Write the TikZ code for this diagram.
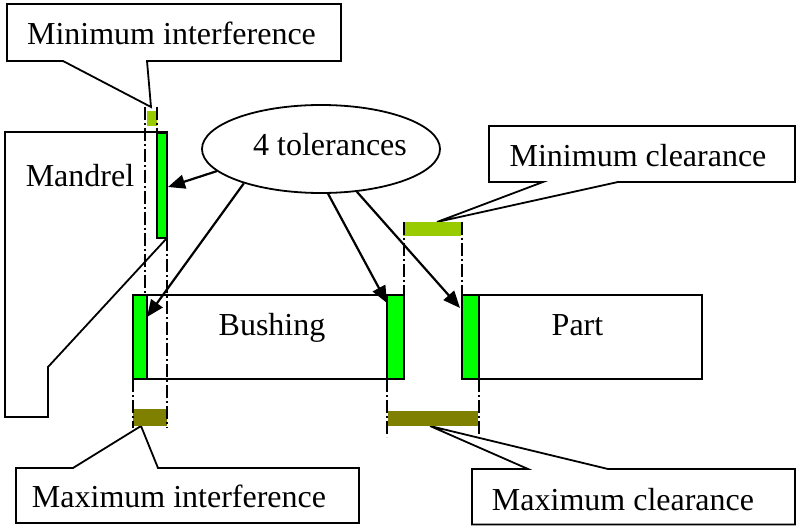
\documentclass[tikz,border=0pt]{standalone}
\usepackage{fontspec}
\setmainfont{Liberation Serif}
\usetikzlibrary{arrows.meta,shapes.geometric}
\definecolor{stripgreen}{HTML}{00FF00}
\definecolor{lightbar}{HTML}{99CC00}
\definecolor{olivebar}{HTML}{808000}
\tikzset{
  outline/.style={draw=black,line width=1.8pt,line join=miter},
  strip/.style={draw=black,fill=stripgreen,line width=1.8pt},
  lightfill/.style={fill=lightbar,draw=none},
  olivefill/.style={fill=olivebar,draw=none},
  dashdot/.style={draw=black,line width=1.4pt,dash pattern=on 13pt off 3pt on 2pt off 3pt},
  lbl/.style={anchor=base,inner sep=0pt,font=\fontsize{32}{38}\selectfont},
  tolarrow/.style={draw=black,line width=2.2pt,-{Triangle[length=17pt,width=14pt]}},
}
\begin{document}
\begin{tikzpicture}[x=1pt,y=-1pt]
\useasboundingbox (0,0) rectangle (797,526);

% callout outlines
\draw[outline] (7,4) -- (341,4) -- (341,61) -- (147,61) -- (151,107) -- (63,61) -- (7,61) -- cycle;
\draw[outline] (16,468) -- (73,468) -- (141,426) -- (158,468) -- (359,468) -- (359,523) -- (16,523) -- cycle;
\draw[outline] (489,126) -- (795,126) -- (795,182) -- (618,182) -- (437,222) -- (543,182) -- (489,182) -- cycle;
\draw[outline] (472,469) -- (528,469) -- (430,426) -- (608,469) -- (795,469) -- (795,524.5) -- (472,524.5) -- cycle;

% mandrel
\draw[outline] (5,132) -- (167,132) -- (167,238) -- (48,367) -- (48,417) -- (5,417) -- cycle;
\draw[strip] (157,133) rectangle (167,238);

% bushing
\draw[outline] (133,295) rectangle (404,379);
\draw[strip] (133,295) rectangle (147,379);
\draw[strip] (387,295) rectangle (404,379);

% part
\draw[outline] (462,295) rectangle (702,379);
\draw[strip] (462,295) rectangle (479,379);

% tolerance bars
\fill[lightfill] (147,111) rectangle (157,126);
\fill[olivefill] (133,409) rectangle (167,426);
\fill[lightfill] (403,222) rectangle (461,236);
\fill[olivefill] (388,411) rectangle (478,426);

% dash-dot extension lines
\draw[dashdot] (145,107) -- (145,295);
\draw[dashdot] (157,107) -- (157,133);
\draw[dashdot] (167,133) -- (167,428);
\draw[dashdot] (133,379) -- (133,428);
\draw[dashdot] (404,222) -- (404,295);
\draw[dashdot] (462,222) -- (462,295);
\draw[dashdot] (387,379) -- (387,437);
\draw[dashdot] (479,379) -- (479,437);

% ellipse
\node[ellipse,draw=black,line width=1.8pt,minimum width=238pt,minimum height=88pt,inner sep=0pt] (tol) at (321,149) {};
\node[lbl] (toltext) at (330,156) {4 tolerances};

% arrow targets
\coordinate (tipM) at (168,187);
\coordinate (tipBL) at (147,317);
\coordinate (tipBR) at (387,303);
\coordinate (tipP) at (460,308);
\draw[tolarrow] (tol.192) -- (tipM);
\draw[tolarrow] (tol.204) -- (tipBL);
\draw[tolarrow] (tol.279) -- (tipBR);
\draw[tolarrow] (tol.310) -- (tipP);

% labels
\node[lbl] (minint) at (171.5,45) {Minimum interference};
\node[lbl] (maxint) at (179,507) {Maximum interference};
\node[lbl] (mincl) at (638,167) {Minimum clearance};
\node[lbl] (maxcl) at (623,510) {Maximum clearance};
\node[lbl] (mandrel) at (80,187) {Mandrel};
\node[lbl] (bushing) at (272,335) {Bushing};
\node[lbl] (part) at (577.5,335) {Part};
\end{tikzpicture}
\end{document}
